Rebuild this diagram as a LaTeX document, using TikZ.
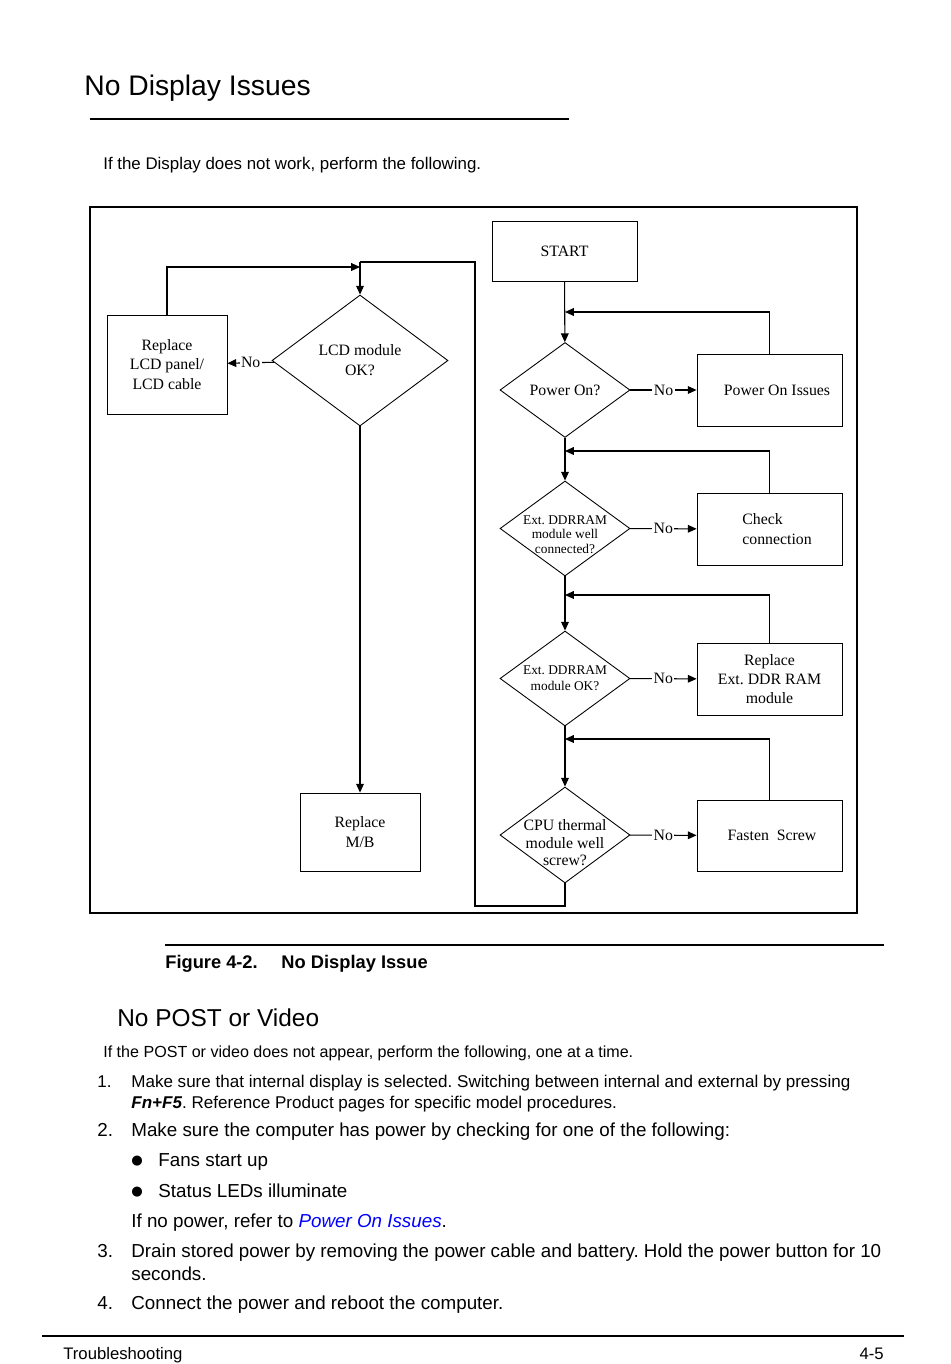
\documentclass[tikz,border=0pt]{standalone}
\usepackage{fontspec}
\setmainfont{Liberation Sans}
\newfontfamily\chartfont{Liberation Serif}
\newfontfamily\symfont{DejaVu Sans}
\usetikzlibrary{arrows.meta,shapes.geometric}
\frenchspacing

\begin{document}
\begin{tikzpicture}[
    x=0.02cm, y=-0.02cm,
    >={Triangle[length=5pt,width=4.4pt]},
    arr/.style={->, line width=0.6pt},
    link/.style={line width=0.6pt},
    frame/.style={draw, line width=1.2pt},
    box/.style={draw, line width=0.5pt, align=center, inner sep=2pt,
                font=\chartfont\fontsize{9}{11}\selectfont,
                minimum width=2.9cm, minimum height=1.44cm},
    dec/.style={draw, diamond, line width=0.5pt, align=center,
                inner xsep=-0.6cm, inner ysep=0pt,
                font=\chartfont\fontsize{9}{10}\selectfont,
                minimum width=2.6cm, minimum height=1.9cm},
    nolab/.style={fill=white, inner sep=0.8pt, font=\chartfont\fontsize{9}{10}\selectfont},
    txt/.style={anchor=base west, inner sep=0pt},
    bodytext/.style={txt, font=\fontsize{9.7}{11}\selectfont},
    listtext/.style={txt, font=\fontsize{10.7}{12}\selectfont},
    dot/.style={anchor=base, inner sep=0pt, font=\symfont\fontsize{7.5}{9}\selectfont}
]
\useasboundingbox (0,0) rectangle (950,1364);

% ---- page heading ----
\node[txt, font=\fontsize{16.1}{19}\selectfont] (title) at (84,96) {No Display Issues};
\draw[line width=1.1pt] (90,119) -- (569,119);
\node[txt, font=\fontsize{9.6}{11}\selectfont] (intro) at (103,170) {If the Display does not work, perform the following.};

% ---- flowchart frame ----
\draw[frame] (90,207) rectangle (857,913);

% right column
\node[box, minimum height=1.2cm] (start) at (564.5,251) {START};
\node[dec] (pon) at (565,390) {Power On?};
\node[box] (issues) at (769.5,390) {\hspace*{0.3cm}Power On Issues};

\node[dec, font=\chartfont\fontsize{7.6}{8}\selectfont] (dconn) at (565,528.5) {\rule{0pt}{12pt}Ext. DDRRAM\\module well\\connected?};
\node[box, align=left] (check) at (769.5,529) {\hspace*{0.3cm}Check\\\hspace*{0.3cm}connection};

\node[dec, font=\chartfont\fontsize{7.6}{9}\selectfont] (dok) at (565,678.5) {Ext. DDRRAM\\module OK?};
\node[box] (ddr) at (769.5,679) {Replace\\Ext. DDR RAM\\module};

\node[dec, minimum height=1.92cm, font=\chartfont\fontsize{9}{9.9}\selectfont] (cpu) at (565,835) {\rule{0pt}{15pt}CPU thermal\\module well\\screw?};
\node[box, minimum height=1.42cm] (fasten) at (769.5,835.5) {\hspace*{0.1cm}Fasten~ Screw};

% left column
\node[dec, minimum width=3.52cm, minimum height=2.62cm,
      font=\chartfont\fontsize{9}{11.3}\selectfont] (lcd) at (360,360.5) {LCD module\\OK?};
\node[box, minimum width=2.4cm, minimum height=1.98cm] (lcdbox) at (167,364.5) {Replace\\LCD panel/\\LCD cable};
\node[box, minimum width=2.4cm, minimum height=1.56cm] (mb) at (360,832) {Replace\\M/B};

% junction points on the main line
\coordinate (j1) at (565,312);
\coordinate (j2) at (565,451);
\coordinate (j3) at (565,595);
\coordinate (j4) at (565,739);
\coordinate (back) at (475,906);
\coordinate (top) at (360,262);
\coordinate (j5) at (360,267);

% main line
\draw[arr] (start) -- (pon);
\draw[arr] (pon) -- (dconn);
\draw[arr] (dconn) -- (dok);
\draw[arr] (dok) -- (cpu);

% no branches
\draw[arr] (pon) -- node[nolab] {No} (issues);
\draw[arr] (dconn) -- node[nolab] {No} (check);
\draw[arr] (dok) -- node[nolab] {No} (ddr);
\draw[arr] (cpu) -- node[nolab] {No} (fasten);

% feedback loops
\draw[arr] (issues.north) |- (j1);
\draw[arr] (check.north) |- (j2);
\draw[arr] (ddr.north) |- (j3);
\draw[arr] (fasten.north) |- (j4);

% over to the LCD check
\draw[link] (cpu.south) |- (back) |- (top);
\draw[arr] (top) -- (lcd.north);
\draw[arr] (lcdbox.north) |- (j5);
\draw[arr] (lcd) -- node[nolab] {No} (lcdbox);
\draw[arr] (lcd) -- (mb);

% ---- caption ----
\draw[line width=0.8pt] (165,945) -- (884,945);
\node[txt, font=\bfseries\fontsize{10.4}{12}\selectfont] (caption) at (165,968) {Figure 4-2.\hspace{1.3em}No Display Issue};

% ---- no post section ----
\node[txt, font=\fontsize{13.9}{16}\selectfont] (post) at (117,1026) {No POST or Video};
\node[txt, font=\fontsize{9.15}{10}\selectfont] (postintro) at (103,1057) {If the POST or video does not appear, perform the following, one at a time.};

\node[bodytext] (n1) at (97,1087) {1.};
\node[bodytext] (s1a) at (131,1087) {Make sure that internal display is selected. Switching between internal and external by pressing};
\node[bodytext] (s1b) at (131,1108) {\textbf{\textit{Fn+F5}}. Reference Product pages for specific model procedures.};

\node[listtext] (n2) at (97,1136) {2.};
\node[listtext] (s2) at (131,1136) {Make sure the computer has power by checking for one of the following:};
\node[dot] (b1) at (137,1164) {●};
\node[listtext] (s2a) at (158,1166) {Fans start up};
\node[dot] (b2) at (137,1195) {●};
\node[listtext] (s2b) at (158,1197) {Status LEDs illuminate};
\node[listtext] (s2c) at (131,1227) {If no power, refer to \textcolor{blue}{\textit{Power On Issues}}.};

\node[listtext] (n3) at (97,1257) {3.};
\node[listtext] (s3a) at (131,1257) {Drain stored power by removing the power cable and battery. Hold the power button for 10};
\node[listtext] (s3b) at (131,1280) {seconds.};

\node[listtext] (n4) at (97,1309) {4.};
\node[listtext] (s4) at (131,1309) {Connect the power and reboot the computer.};

% ---- footer ----
\draw[line width=0.8pt] (42,1336) -- (904,1336);
\node[txt, font=\fontsize{9.5}{11}\selectfont] (foot) at (63,1359) {Troubleshooting};
\node[txt, anchor=base east, font=\fontsize{9.5}{11}\selectfont] (page) at (884,1359) {4-5};

\end{tikzpicture}
\end{document}
